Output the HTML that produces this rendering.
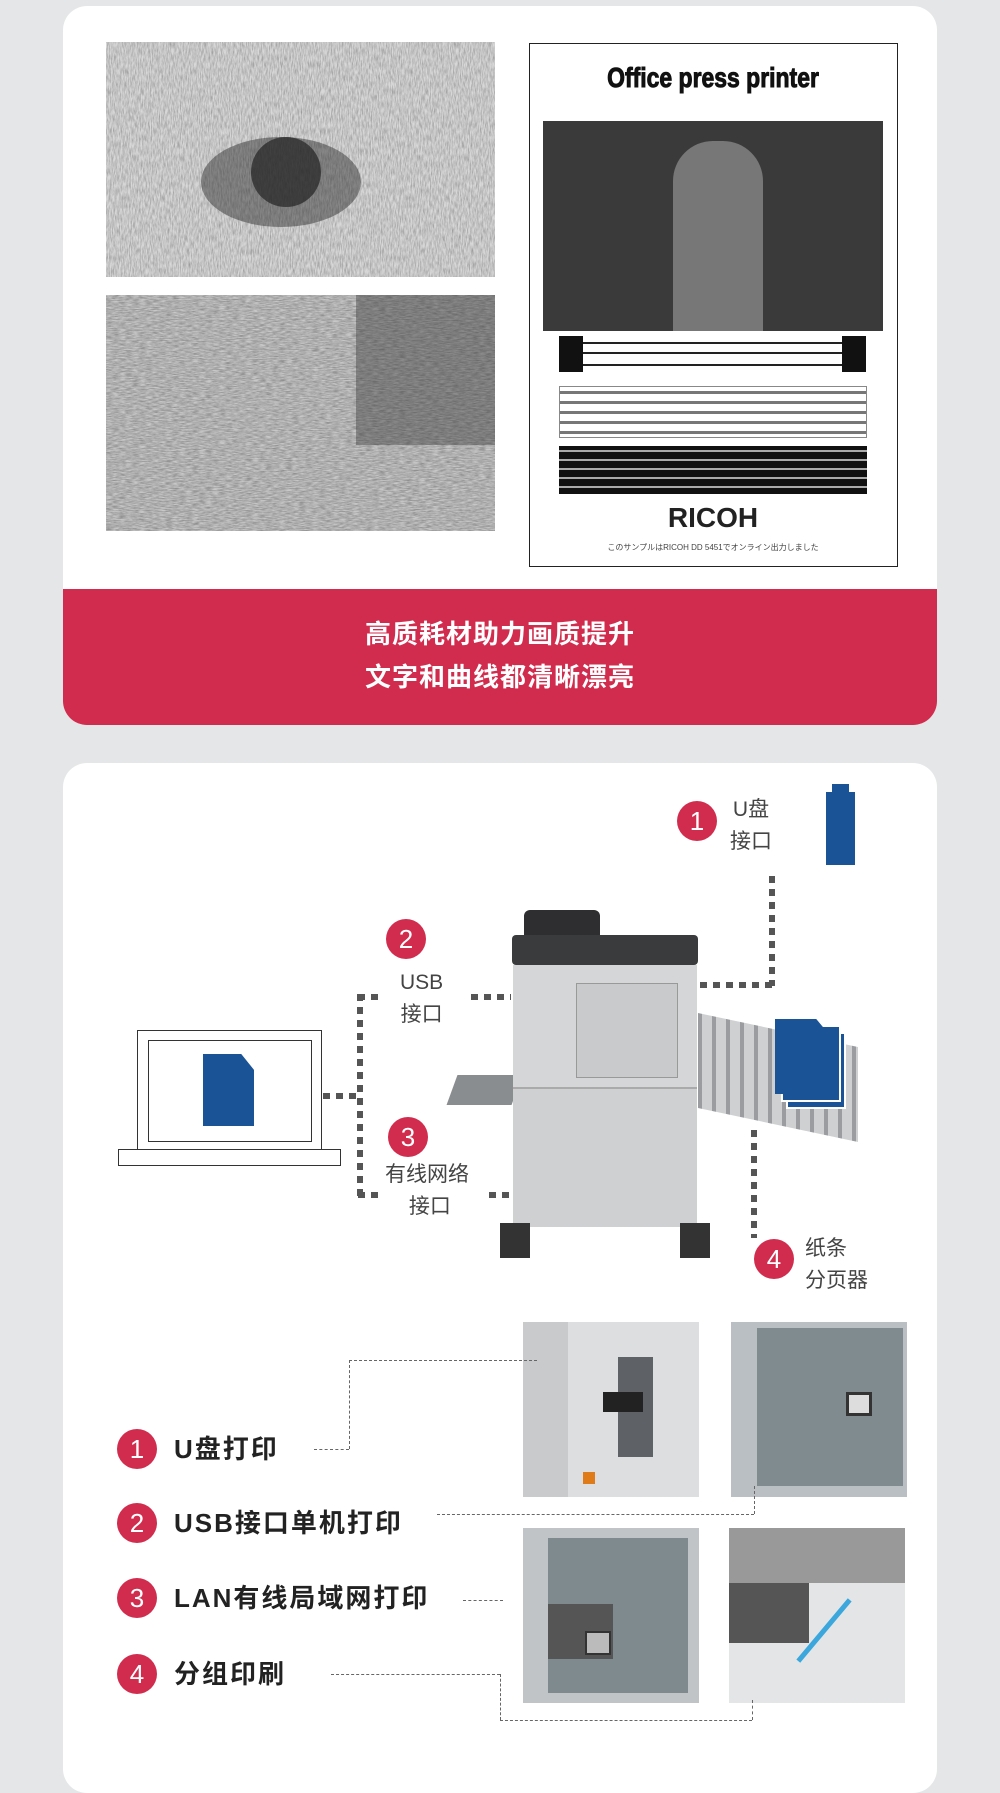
<!DOCTYPE html>
<html><head><meta charset="utf-8"><style>
*{margin:0;padding:0;box-sizing:border-box}
body{width:1000px;height:1791px;background:#e4e6e7;position:relative;overflow:hidden;font-family:"Liberation Sans","Noto Sans CJK SC",sans-serif}
.a{position:absolute}
.card{position:absolute;left:63px;width:874px;background:#fff;border-radius:24px;overflow:hidden}
.circ{position:absolute;width:40px;height:40px;border-radius:50%;background:#d12c4d;color:#fff;font-size:26px;line-height:40px;text-align:center}
.lbl{position:absolute;font-size:21px;color:#444;line-height:32px;text-align:center}
.dh{position:absolute;height:6px;background:repeating-linear-gradient(90deg,#555 0 7px,transparent 7px 13px)}
.dv{position:absolute;width:6px;background:repeating-linear-gradient(180deg,#555 0 7px,transparent 7px 13px)}
.th{position:absolute;border-top:1px dashed #666}
.tv{position:absolute;border-left:1px dashed #666}
.it{position:absolute;left:174px;font-size:26px;font-weight:bold;color:#222;letter-spacing:2px;line-height:40px}
</style></head><body>
<div class="card" style="top:6px;height:719px">
 <div class="a" style="left:43px;top:36px;width:389px;height:235px;overflow:hidden">
  <svg width="389" height="235"><filter id="n"><feTurbulence type="fractalNoise" baseFrequency="0.9 0.15" numOctaves="3"/><feColorMatrix values="0 0 0 0 0.3 0 0 0 0 0.3 0 0 0 0 0.3 0 0 0 1.6 -0.5"/></filter><rect width="389" height="235" fill="#d8d8d8"/><rect width="389" height="235" filter="url(#n)"/><ellipse cx="175" cy="140" rx="80" ry="45" fill="#333" opacity=".5"/><circle cx="180" cy="130" r="35" fill="#222" opacity=".7"/></svg></div>
 <div class="a" style="left:43px;top:289px;width:389px;height:236px;overflow:hidden">
  <svg width="389" height="236"><filter id="n2"><feTurbulence type="fractalNoise" baseFrequency="0.15 0.9" numOctaves="3"/><feColorMatrix values="0 0 0 0 0.25 0 0 0 0 0.25 0 0 0 0 0.25 0 0 0 1.6 -0.4"/></filter><rect width="389" height="236" fill="#c8c8c8"/><rect width="389" height="236" filter="url(#n2)"/><rect x="250" width="139" height="150" fill="#333" opacity=".4"/></svg></div>
 <div class="a" style="left:466px;top:37px;width:369px;height:524px;border:1.5px solid #222;background:#fff">
  <div class="a" style="left:0;top:18px;width:366px;text-align:center;font-size:28px;font-weight:bold;transform:scaleX(.82);color:#111;-webkit-text-stroke:1px #111">Office press printer</div>
  <div class="a" style="left:13px;top:77px;width:340px;height:210px;background:#3a3a3a"><div class="a" style="left:130px;top:20px;width:90px;height:190px;background:#777;border-radius:40px 40px 0 0"></div></div>
  <div class="a" style="left:29px;top:292px;width:24px;height:36px;background:#111"></div>
  <div class="a" style="left:312px;top:292px;width:24px;height:36px;background:#111"></div>
  <div class="a" style="left:53px;top:298px;width:259px;height:24px;border-top:2px solid #222;border-bottom:2px solid #222"><div style="margin-top:8px;border-top:2px solid #222"></div></div>
  <div class="a" style="left:29px;top:342px;width:308px;height:52px;border:1px solid #888;background:repeating-linear-gradient(#fff 0 4px,#777 4px 7px,#fff 7px 10px)"></div>
  <div class="a" style="left:29px;top:402px;width:308px;height:48px;background:repeating-linear-gradient(#111 0 4px,#aaa 4px 6px,#111 6px 9px)"></div>
  <div class="a" style="left:0;top:458px;width:366px;text-align:center;font-size:28px;font-weight:bold;color:#222">RICOH</div>
  <div class="a" style="left:0;top:498px;width:366px;text-align:center;font-size:8px;color:#444">このサンプルはRICOH DD 5451でオンライン出力しました</div>
 </div>
 <div class="a" style="left:0;top:583px;width:874px;height:136px;background:#d12c4d;color:#fff;text-align:center;font-size:26px;font-weight:bold;line-height:43px;padding-top:24px;letter-spacing:1px">高质耗材助力画质提升<br>文字和曲线都清晰漂亮</div>
</div>

<div class="card" style="top:763px;height:1030px"></div>
<div class="circ" style="left:677px;top:801px">1</div>
<div class="lbl" style="left:730px;top:794px">U盘<br>接口</div>
<div class="a" style="left:826px;top:792px;width:29px;height:73px;background:#1a5497"></div>
<div class="a" style="left:832px;top:784px;width:17px;height:10px;background:#1a5497"></div>
<div class="dv" style="left:769px;top:876px;height:110px"></div>
<div class="dh" style="left:700px;top:982px;width:75px"></div>

<div class="circ" style="left:386px;top:919px">2</div>
<div class="lbl" style="left:400px;top:967px">USB<br>接口</div>
<div class="dh" style="left:358px;top:994px;width:20px"></div>
<div class="dh" style="left:471px;top:994px;width:40px"></div>
<div class="dv" style="left:357px;top:994px;height:203px"></div>
<div class="dh" style="left:323px;top:1093px;width:38px"></div>
<div class="dh" style="left:358px;top:1192px;width:20px"></div>
<div class="dh" style="left:489px;top:1192px;width:24px"></div>
<div class="circ" style="left:388px;top:1117px">3</div>
<div class="lbl" style="left:385px;top:1159px">有线网络<br>&nbsp;接口</div>

<div class="a" style="left:137px;top:1030px;width:185px;height:120px;border:1.5px solid #333;background:#fff"></div>
<div class="a" style="left:148px;top:1040px;width:164px;height:102px;border:1px solid #333"></div>
<div class="a" style="left:118px;top:1149px;width:223px;height:17px;border:1.5px solid #333;background:#fff"></div>
<div class="a" style="left:203px;top:1054px;width:51px;height:72px;background:#1a5497;clip-path:polygon(0 0,75% 0,100% 22%,100% 100%,0 100%)"></div>

<div class="a" style="left:452px;top:1075px;width:65px;height:30px;background:#8a8d90;transform:skewX(-20deg)"></div>
<div class="a" style="left:524px;top:910px;width:76px;height:25px;background:#2e2e30;border-radius:6px 6px 0 0"></div>
<div class="a" style="left:512px;top:935px;width:186px;height:30px;background:#3a3b3d;border-radius:4px"></div>
<div class="a" style="left:513px;top:965px;width:184px;height:122px;background:#d5d6d8"></div>
<div class="a" style="left:576px;top:983px;width:102px;height:95px;background:#c9cacc;border:1px solid #999"></div>
<div class="a" style="left:513px;top:1087px;width:184px;height:140px;background:#cfd0d2;border-top:2px solid #aaa"></div>
<div class="a" style="left:500px;top:1223px;width:30px;height:35px;background:#333"></div>
<div class="a" style="left:680px;top:1223px;width:30px;height:35px;background:#333"></div>
<div class="a" style="left:698px;top:1030px;width:160px;height:95px;background:repeating-linear-gradient(90deg,#9a9c9f 0 4px,#cfd0d2 4px 14px);transform:skewY(12deg)"></div>
<div class="a" style="left:786px;top:1032px;width:60px;height:77px;background:#1a5497;border:2px solid #fff"></div>
<div class="a" style="left:781px;top:1025px;width:60px;height:77px;background:#1a5497;border:2px solid #fff"></div>
<div class="a" style="left:775px;top:1019px;width:55px;height:75px;background:#1a5497;clip-path:polygon(0 0,75% 0,100% 22%,100% 100%,0 100%)"></div>
<div class="dv" style="left:751px;top:1130px;height:108px"></div>
<div class="circ" style="left:754px;top:1239px">4</div>
<div class="lbl" style="left:805px;top:1233px;text-align:left">纸条<br>分页器</div>

<div class="a" style="left:523px;top:1322px;width:176px;height:175px;background:#c8cacc"><div class="a" style="left:45px;top:0;width:131px;height:175px;background:#dcdedf"></div><div class="a" style="left:95px;top:35px;width:35px;height:100px;background:#5e6266"></div><div class="a" style="left:80px;top:70px;width:40px;height:20px;background:#222"></div><div class="a" style="left:60px;top:150px;width:12px;height:12px;background:#e07b1a"></div></div>
<div class="a" style="left:731px;top:1322px;width:176px;height:175px;background:#b9bfc2"><div class="a" style="left:26px;top:6px;width:146px;height:158px;background:#7f8b8f"></div><div class="a" style="left:115px;top:70px;width:26px;height:24px;background:#ddd;border:3px solid #333"></div></div>
<div class="a" style="left:523px;top:1528px;width:176px;height:175px;background:#c0c4c6"><div class="a" style="left:25px;top:10px;width:140px;height:155px;background:#7e8a8e"></div><div class="a" style="left:25px;top:76px;width:65px;height:55px;background:#555"></div><div class="a" style="left:62px;top:103px;width:26px;height:24px;background:#bbb;border:2px solid #333"></div></div>
<div class="a" style="left:729px;top:1528px;width:176px;height:175px;background:#e4e5e6"><div class="a" style="left:0;top:0;width:176px;height:55px;background:#999"></div><div class="a" style="left:0;top:55px;width:80px;height:60px;background:#555"></div><div class="a" style="left:55px;top:100px;width:80px;height:5px;background:#3ba7dc;transform:rotate(-50deg)"></div></div>

<div class="circ" style="left:117px;top:1429px">1</div><div class="it" style="top:1429px">U盘打印</div>
<div class="circ" style="left:117px;top:1503px">2</div><div class="it" style="top:1503px">USB接口单机打印</div>
<div class="circ" style="left:117px;top:1578px">3</div><div class="it" style="top:1578px">LAN有线局域网打印</div>
<div class="circ" style="left:117px;top:1654px">4</div><div class="it" style="top:1654px">分组印刷</div>
<div class="th" style="left:314px;top:1449px;width:35px"></div>
<div class="tv" style="left:349px;top:1360px;height:89px"></div>
<div class="th" style="left:349px;top:1360px;width:188px"></div>
<div class="th" style="left:437px;top:1514px;width:317px"></div>
<div class="tv" style="left:754px;top:1486px;height:28px"></div>
<div class="th" style="left:463px;top:1600px;width:40px"></div>
<div class="th" style="left:331px;top:1674px;width:169px"></div>
<div class="tv" style="left:500px;top:1674px;height:46px"></div>
<div class="th" style="left:500px;top:1720px;width:252px"></div>
<div class="tv" style="left:752px;top:1700px;height:20px"></div>
</body></html>
